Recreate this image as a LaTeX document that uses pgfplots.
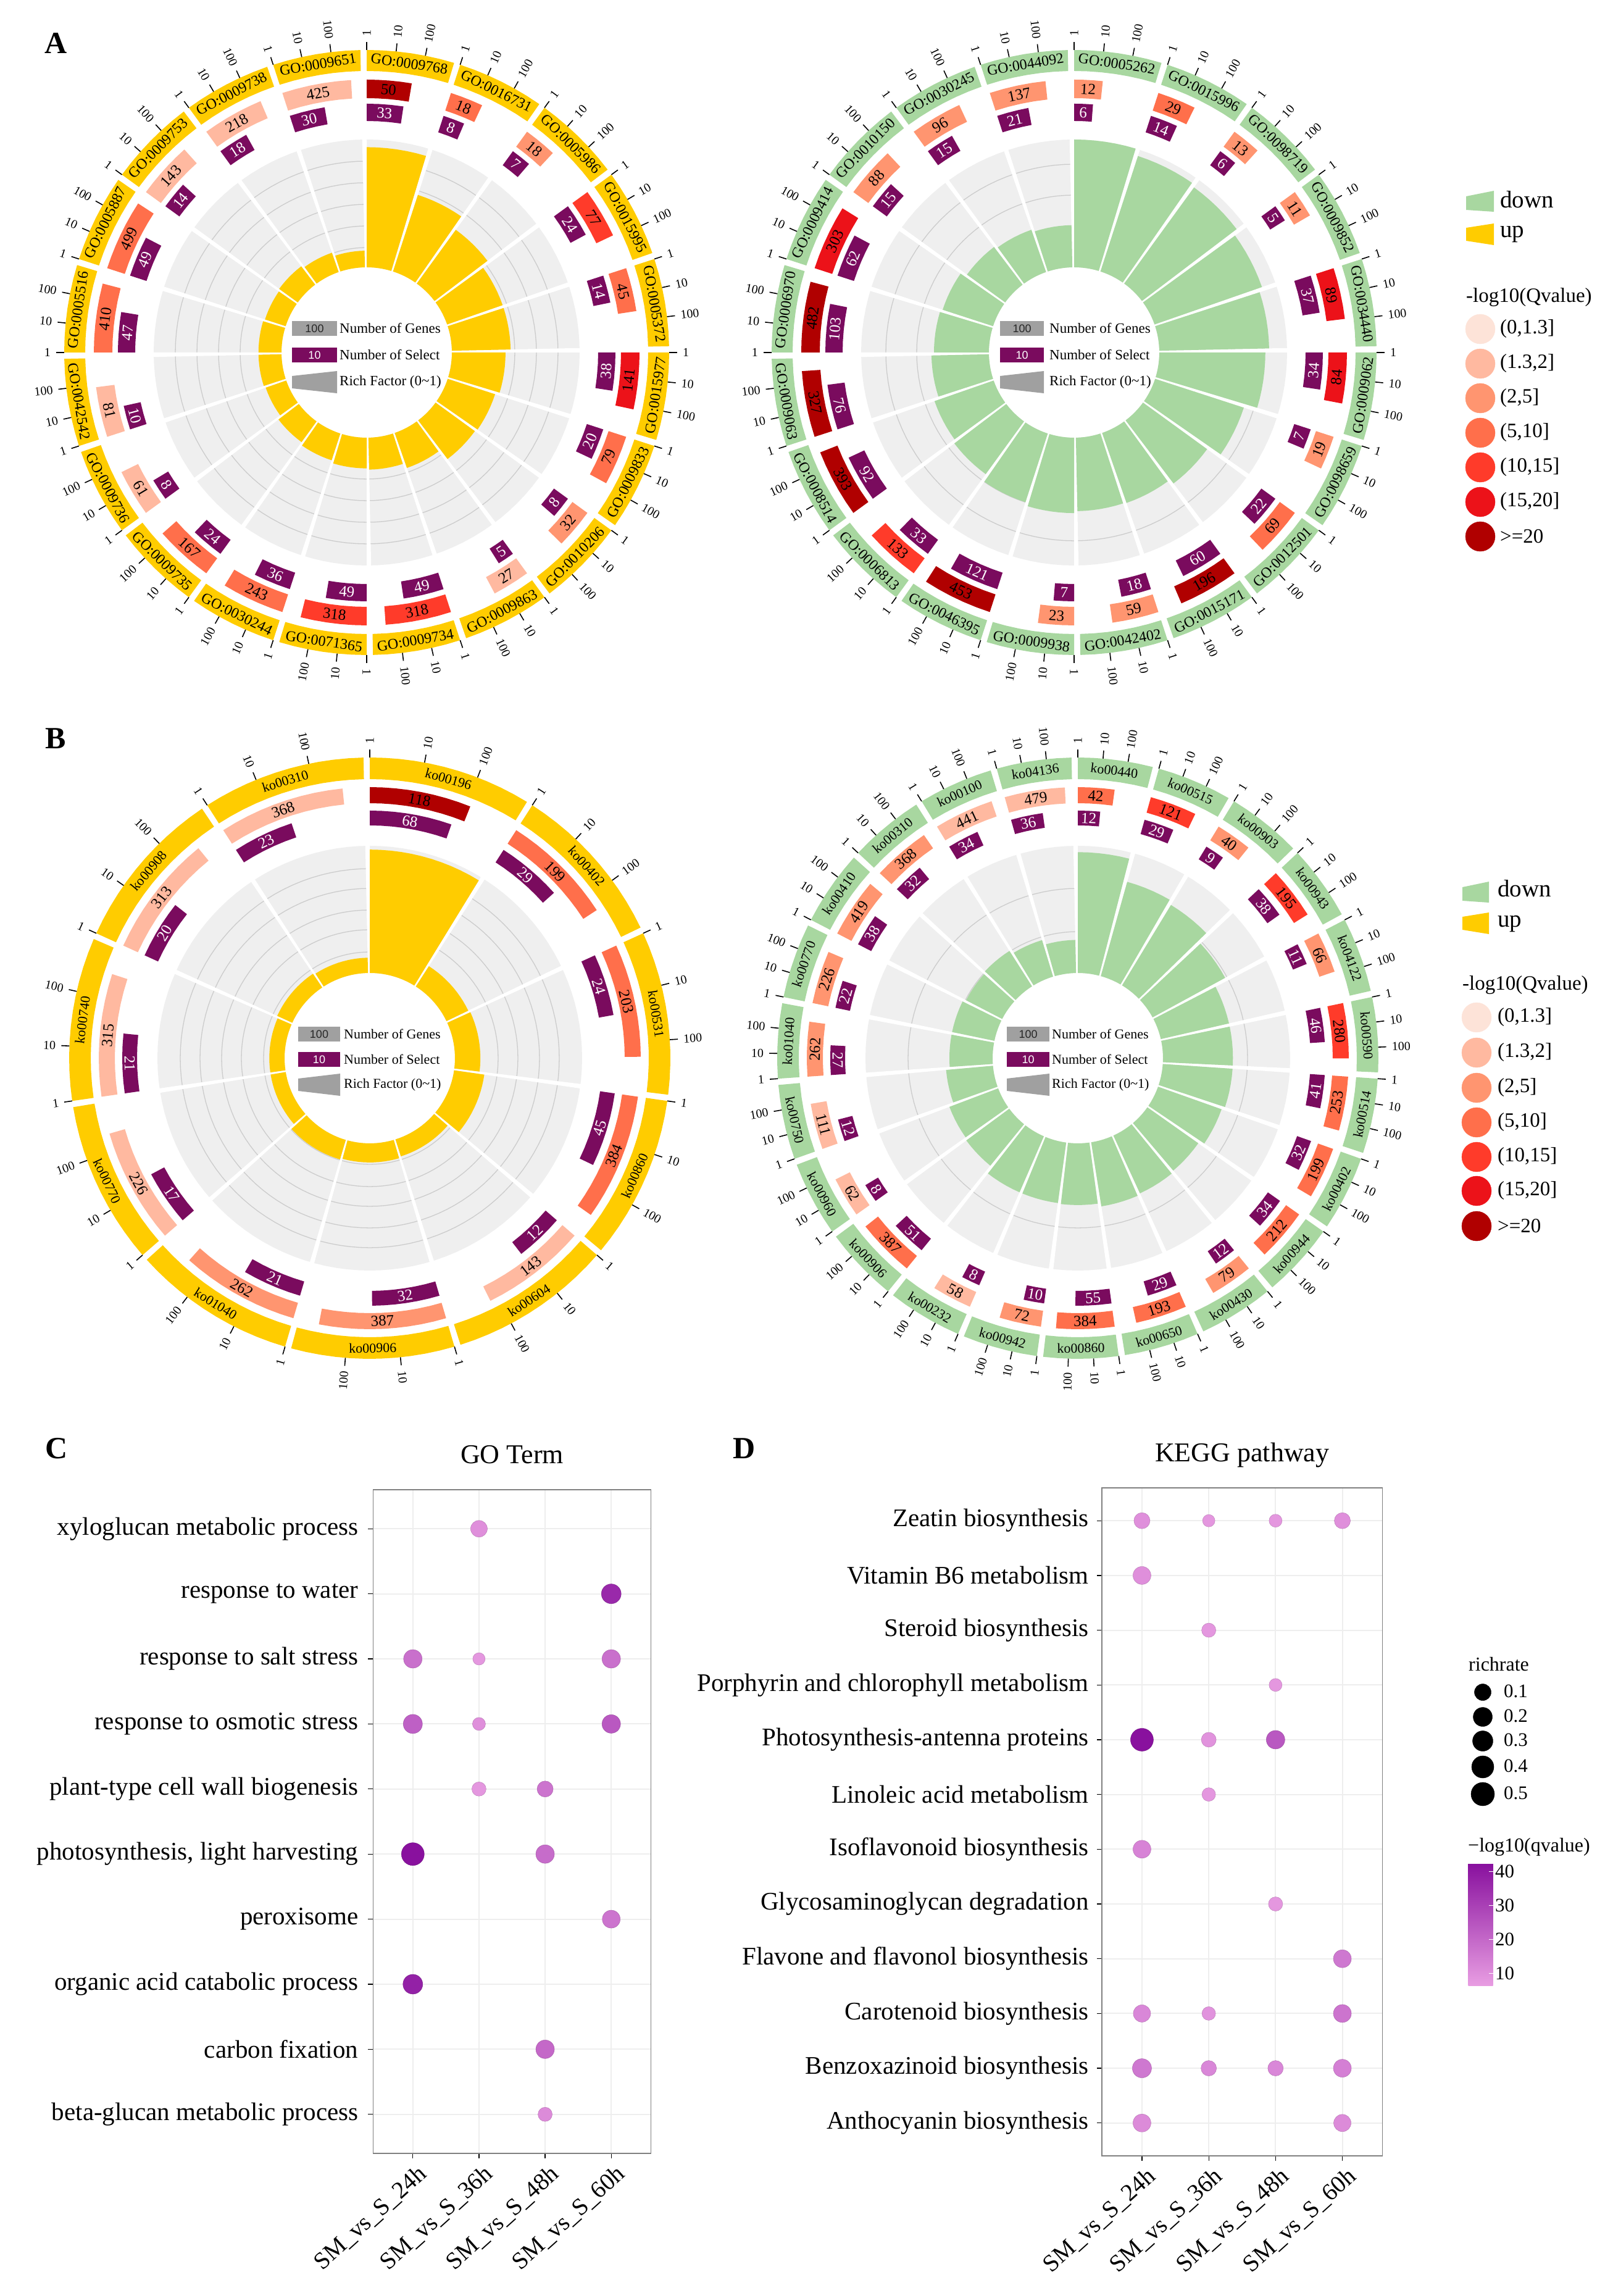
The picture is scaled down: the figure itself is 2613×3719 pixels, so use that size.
\documentclass[border=0pt]{standalone}
\usepackage{fontspec}
\setmainfont{Liberation Serif}
\newfontfamily\arialfont{Liberation Sans}
\usepackage{pgfplots}
\usepgfplotslibrary{polar}
\pgfplotsset{compat=1.18}

\definecolor{cq1}{HTML}{FDE3D8}
\definecolor{cq2}{HTML}{FFB9A0}
\definecolor{cq3}{HTML}{FF9570}
\definecolor{cq4}{HTML}{FF6F4B}
\definecolor{cq5}{HTML}{FF3B2A}
\definecolor{cq6}{HTML}{EC1219}
\definecolor{cq7}{HTML}{B00000}
\definecolor{selpurple}{HTML}{7A0B5E}
\definecolor{upyellow}{HTML}{FFCC00}
\definecolor{downgreen}{HTML}{A8D7A0}
\definecolor{trackgrey}{HTML}{EFEFEF}
\definecolor{circgrey}{HTML}{CCCCCC}
\definecolor{keygrey}{HTML}{A0A0A0}
\definecolor{panelgrid}{HTML}{EEEEEE}
\definecolor{panelframe}{HTML}{808080}

\pgfplotsset{colormap={bubble}{rgb255(0cm)=(232,157,226); rgb255(1cm)=(136,16,158)}}

\newcommand\fs[1]{\fontsize{#1}{#1}\selectfont}

% label / genes (log scale over the sector) / q class / selected / rich factor
\def\dataAL{GO:0009768/50/7/33/0.94,GO:0016731/18/4/8/0.63,GO:0005986/18/3/7/0.52,GO:0015995/77/5/24/0.46,GO:0005372/45/4/14/0.46,GO:0015977/141/6/38/0.42,GO:0009833/79/4/20/0.39,GO:0010206/32/3/8/0.38,GO:0009863/27/2/5/0.29,GO:0009734/318/5/49/0.25,GO:0071365/318/5/49/0.24,GO:0030244/243/4/36/0.22,GO:0009735/167/4/24/0.20,GO:0009736/61/2/8/0.17,GO:0042542/81/2/10/0.18,GO:0005516/410/4/47/0.18,GO:0005887/499/4/49/0.17,GO:0009753/143/2/14/0.18,GO:0009738/218/2/18/0.16,GO:0009651/425/2/30/0.13}
\def\dataAR{GO:0005262/12/3/6/1.00,GO:0015996/29/4/14/0.95,GO:0098719/13/3/6/0.93,GO:0009852/11/3/5/0.89,GO:0034440/89/6/37/0.86,GO:0009062/84/6/34/0.83,GO:0098659/19/3/7/0.73,GO:0012501/69/4/22/0.62,GO:0015171/196/7/60/0.58,GO:0042402/59/3/18/0.575,GO:0009938/23/3/7/0.59,GO:0046395/453/7/121/0.565,GO:0006813/133/5/33/0.51,GO:0008514/393/7/92/0.49,GO:0009063/327/7/76/0.45,GO:0006970/482/7/103/0.43,GO:0009414/303/6/62/0.415,GO:0010150/88/3/15/0.37,GO:0030245/96/3/15/0.35,GO:0044092/137/3/21/0.33}
\def\dataBL{ko00196/118/7/68/0.97,ko00402/199/4/29/0.19,ko00531/203/4/24/0.20,ko00860/384/4/45/0.24,ko00604/143/2/12/0.14,ko00906/387/3/32/0.15,ko01040/262/3/21/0.16,ko00770/226/2/17/0.12,ko00740/315/2/21/0.12,ko00908/313/2/20/0.13,ko00310/368/2/23/0.12}
\def\dataBR{ko00440/42/4/12/0.95,ko00515/121/5/29/0.77,ko00903/40/3/9/0.74,ko00943/195/5/38/0.65,ko04122/66/3/11/0.55,ko00590/280/5/46/0.55,ko00514/253/4/41/0.55,ko00402/199/4/32/0.53,ko00944/212/4/34/0.49,ko00430/79/3/12/0.50,ko00650/193/4/29/0.51,ko00860/384/4/55/0.485,ko00942/72/3/10/0.48,ko00232/58/2/8/0.48,ko00906/387/4/51/0.42,ko00960/62/2/8/0.41,ko00750/111/2/12/0.37,ko01040/262/3/27/0.34,ko00770/226/3/22/0.34,ko00410/419/3/38/0.32,ko00310/368/3/32/0.33,ko00100/441/2/34/0.30,ko04136/479/2/36/0.26}

% polar outline of a ring sector, left in \pts
\newcommand\sectorpts[4]{%
  \pgfmathtruncatemacro\nn{max(1,ceil(abs(#2-(#1))/3))}%
  \pgfmathsetmacro\dang{(#2-(#1))/\nn}%
  \gdef\pts{}%
  \foreach \k in {0,...,\nn}{\pgfmathsetmacro\ptang{#1+\k*\dang}\xdef\pts{\pts(\ptang,#4)}}%
  \foreach \k in {\nn,...,0}{\pgfmathsetmacro\ptang{#1+\k*\dang}\xdef\pts{\pts(\ptang,#3)}}%
}
\newcommand\sector[5]{%
  \sectorpts{#1}{#2}{#3}{#4}%
  \edef\tmp{\noexpand\addplot[draw=none,fill=#5] coordinates {\pts};}\tmp
}
% text along the ring at angle #1, radius #2
\newcommand\facetext[5]{%
  \pgfmathsetmacro\nang{mod(mod(#1,360)+360,360)}%
  \pgfmathsetmacro\rot{\nang<180 ? \nang-90 : \nang+90}%
  \edef\tmp{\noexpand\node[rotate=\rot,text=#4,inner sep=0pt,font=\noexpand\fs{#3}] at (axis cs:#1,#2) {#5};}\tmp
}

% cx, cy from the top, number of sectors, data, ring colour, grid radii
\newcommand\circos[6]{%
\pgfmathsetmacro\cyy{3719-#2}%
\begin{polaraxis}[at={(#1pt,\cyy pt)},anchor=center,hide axis,clip=false,
  width=980pt,height=980pt,scale only axis,xmin=0,xmax=360,ymin=0,ymax=490]
  \pgfmathsetmacro\secw{360/#3}%
  \pgfmathsetmacro\span{\secw-\gapdeg}%
  \sector{0}{360}{0}{\rTrack}{trackgrey}%
  \foreach \g in {#6}{%
    \sectorpts{0}{360}{\g}{\g}%
    \edef\tmp{\noexpand\addplot[circgrey,line width=1.3pt] coordinates {\pts};}\tmp
  }%
  \foreach \vlab/\vgene/\vcls/\vsel/\vrich [count=\ii] in #4 {%
    \pgfmathsetmacro\aa{90-(\ii-1)*\secw}%
    \pgfmathsetmacro\ab{\aa-\span}%
    \pgfmathsetmacro\ac{\aa-\secw}%
    % white gap through the grey track
    \edef\tmp{\noexpand\addplot[draw=none,fill=white] coordinates {(\ab,352)(\ac,352)(\ac,0)};}\tmp
    % outer labelled ring and its log ticks
    \sector{\aa}{\ab}{\ringIn}{\ringOut}{#5}%
    \pgfmathsetmacro\am{\aa-\span/2}%
    \pgfmathsetmacro\rm{(\ringIn+\ringOut)/2}%
    \facetext{\am}{\rm}{\ringFont}{black}{\vlab}%
    \foreach \k/\tl in {0/1,1/10,2/100}{%
      \pgfmathsetmacro\ta{\aa-\k/3*\span}%
      \pgfmathsetmacro\tb{\ringOut+13}%
      \pgfmathsetmacro\tc{\ringOut+22}%
      \pgfmathsetmacro\nang{mod(mod(\ta,360)+360,360)}%
      \pgfmathtruncatemacro\isright{cos(\nang)>=0 ? 1 : 0}%
      \ifnum\isright=1 \pgfmathsetmacro\trot{\nang}\def\tanc{west}\else \pgfmathsetmacro\trot{\nang+180}\def\tanc{east}\fi
      \edef\tmp{\noexpand\draw[black,line width=1.6pt] (axis cs:\ta,\ringOut) -- (axis cs:\ta,\tb);
        \noexpand\node[rotate=\trot,anchor=\tanc,inner sep=0pt,font=\noexpand\fs{20}] at (axis cs:\ta,\tc) {\tl};}\tmp
    }%
    % genes
    \pgfmathsetmacro\ae{\aa-log10(\vgene)/3*\span}%
    \sector{\aa}{\ae}{\geneIn}{\geneOut}{cq\vcls}%
    \pgfmathsetmacro\am{(\aa+\ae)/2}%
    \pgfmathsetmacro\rm{(\geneIn+\geneOut)/2}%
    \facetext{\am}{\rm}{25}{black}{\vgene}%
    % selected
    \pgfmathsetmacro\ae{\aa-log10(\vsel)/3*\span}%
    \sector{\aa}{\ae}{\selIn}{\selOut}{selpurple}%
    \pgfmathsetmacro\am{(\aa+\ae)/2}%
    \pgfmathsetmacro\rm{(\selIn+\selOut)/2}%
    \facetext{\am}{\rm}{25}{white}{\vsel}%
  }%
  \sector{0}{360}{0}{\rHole}{white}%
  \foreach \vlab/\vgene/\vcls/\vsel/\vrich [count=\ii] in #4 {%
    \pgfmathsetmacro\aa{90-(\ii-1)*\secw}%
    \pgfmathsetmacro\ab{\aa-\span}%
    \pgfmathsetmacro\rr{\rHole+\vrich*(\rTrack-\rHole)}%
    \sector{\aa}{\ab}{\rHole}{\rr}{#5}%
  }%
\end{polaraxis}%
}

% key in the hub: cx cy font, up-offsets of rows 2 and 3, rect x0 x1, text x
\newcommand\hubkey[8]{%
  \pgfmathsetmacro\xa{#1+(#6)}\pgfmathsetmacro\xb{#1+(#7)}\pgfmathsetmacro\xt{#1+(#8)}%
  \pgfmathsetmacro\xm{(\xa+\xb)/2}%
  \pgfmathsetmacro\ya{#2-51}\pgfmathsetmacro\yb{#2-27}\pgfmathsetmacro\ym{#2-39}%
  \pgfmathsetmacro\yc{#2-(#4)-12}\pgfmathsetmacro\yd{#2-(#4)+12}\pgfmathsetmacro\yn{#2-(#4)}%
  \pgfmathsetmacro\ye{#2-(#5)-18}\pgfmathsetmacro\yf{#2-(#5)-10}\pgfmathsetmacro\yg{#2-(#5)+10}\pgfmathsetmacro\yh{#2-(#5)+18}\pgfmathsetmacro\yp{#2-(#5)}%
  \edef\tmp{%
    \noexpand\addplot[draw=none,fill=keygrey] coordinates {(\xa,\ya)(\xb,\ya)(\xb,\yb)(\xa,\yb)};
    \noexpand\addplot[draw=none,fill=selpurple] coordinates {(\xa,\yc)(\xb,\yc)(\xb,\yd)(\xa,\yd)};
    \noexpand\addplot[draw=none,fill=keygrey] coordinates {(\xa,\yf)(\xb,\ye)(\xb,\yh)(\xa,\yg)};
    \noexpand\node[font=\noexpand\arialfont\noexpand\fs{18},text=black!85] at (axis cs:\xm,\ym) {100};
    \noexpand\node[font=\noexpand\arialfont\noexpand\fs{18},text=white] at (axis cs:\xm,\yn) {10};
    \noexpand\node[anchor=west,inner sep=0pt,font=\noexpand\fs{#3}] at (axis cs:\xt,\ym) {Number of Genes};
    \noexpand\node[anchor=west,inner sep=0pt,font=\noexpand\fs{#3}] at (axis cs:\xt,\yn) {Number of Select};
    \noexpand\node[anchor=west,inner sep=0pt,font=\noexpand\fs{#3}] at (axis cs:\xt,\yp) {Rich Factor (0\noexpand\textasciitilde{}1)};
  }\tmp
}
% q-value key row: x, y, colour, text x, label
\newcommand\qkey[5]{%
  \addplot[only marks,mark=*,mark size=24pt,color=#3] coordinates {(#1,#2)};
  \node[anchor=west,inner sep=0pt,font=\fs{33}] at (axis cs:#4,#2) {#5};
}
\newcommand\updown[7]{% x0 x1 ydown yup xtext ytextdown ytextup
  \addplot[draw=none,fill=downgreen] coordinates {(#1,#3-8)(#2,#3-17)(#2,#3+17)(#1,#3+14)};
  \addplot[draw=none,fill=upyellow] coordinates {(#1,#4-11)(#2,#4-18)(#2,#4+17)(#1,#4+10)};
  \node[anchor=west,inner sep=0pt,font=\fs{39}] at (axis cs:#5,#6) {down};
  \node[anchor=west,inner sep=0pt,font=\fs{39}] at (axis cs:#5,#7) {up};
}

\begin{document}
\begin{tikzpicture}
\useasboundingbox (0,0) rectangle (2613pt,3719pt);

\def\gapdeg{1.2}\def\rHole{138}\def\rTrack{345}
\def\ringIn{456}\def\ringOut{490}\def\geneIn{412}\def\geneOut{442}\def\selIn{375}\def\selOut{403}\def\ringFont{24}
\circos{594}{571}{20}{\dataAL}{upyellow}{170,205,240,275,310}
\circos{1740}{571}{20}{\dataAR}{downgreen}{205,255,305}
\def\ringIn{452}\def\ringOut{487}\def\geneIn{413}\def\geneOut{439}\def\selIn{377}\def\selOut{401}\def\ringFont{22}\def\rTrack{344}
\circos{599}{1714}{11}{\dataBL}{upyellow}{172,208,240,275,307}
\circos{1746}{1714}{23}{\dataBR}{downgreen}{205,275}

% page-sized axis for panel letters and the keys
\begin{axis}[at={(0pt,0pt)},anchor=south west,hide axis,clip=false,
  width=2613pt,height=3719pt,scale only axis,
  xmin=0,xmax=2613,ymin=0,ymax=3719,y dir=reverse]
  \node[font=\bfseries\fs{50}] at (axis cs:91,70) {A};
  \node[font=\bfseries\fs{50}] at (axis cs:90,1196) {B};
  \node[font=\bfseries\fs{50}] at (axis cs:92,2346) {C};
  \node[font=\bfseries\fs{50}] at (axis cs:1206,2346) {D};

  \hubkey{594}{571}{23}{-4}{-48}{-121}{-48}{-44}
  \hubkey{1740}{571}{23}{-4}{-48}{-120}{-49}{-40}
  \hubkey{599}{1714}{22}{-2}{-43}{-116}{-48}{-42}
  \hubkey{1746}{1714}{22}{-2}{-43}{-115}{-46}{-42}

  \updown{2375}{2420}{326}{380}{2430}{323}{379}
  \node[anchor=west,inner sep=0pt,font=\fs{33}] at (axis cs:2375,482) {-log10(Qvalue)};
  \qkey{2398}{533}{cq1}{2430}{(0,1.3]}
  \qkey{2398}{589}{cq2}{2430}{(1.3,2]}
  \qkey{2398}{645}{cq3}{2430}{(2,5]}
  \qkey{2398}{701}{cq4}{2430}{(5,10]}
  \qkey{2398}{757}{cq5}{2430}{(10,15]}
  \qkey{2398}{813}{cq6}{2430}{(15,20]}
  \qkey{2398}{869}{cq7}{2430}{>=20}

  \updown{2369}{2412}{1445}{1496}{2426}{1439}{1496}
  \node[anchor=west,inner sep=0pt,font=\fs{33}] at (axis cs:2369,1596) {-log10(Qvalue)};
  \qkey{2392}{1648}{cq1}{2426}{(0,1.3]}
  \qkey{2392}{1705}{cq2}{2426}{(1.3,2]}
  \qkey{2392}{1762}{cq3}{2426}{(2,5]}
  \qkey{2392}{1818}{cq4}{2426}{(5,10]}
  \qkey{2392}{1874}{cq5}{2426}{(10,15]}
  \qkey{2392}{1929}{cq6}{2426}{(15,20]}
  \qkey{2392}{1986}{cq7}{2426}{>=20}

  % richrate size key
  \node[anchor=west,inner sep=0pt,font=\fs{32}] at (axis cs:2379,2696) {richrate};
  \addplot[only marks,mark=*,mark size=13.5pt,color=black] coordinates {(2402,2741)};
  \addplot[only marks,mark=*,mark size=15.5pt,color=black] coordinates {(2402,2781)};
  \addplot[only marks,mark=*,mark size=16.5pt,color=black] coordinates {(2402,2820)};
  \addplot[only marks,mark=*,mark size=18pt,color=black] coordinates {(2402,2862)};
  \addplot[only marks,mark=*,mark size=19pt,color=black] coordinates {(2402,2906)};
  \node[anchor=west,inner sep=0pt,font=\fs{31}] at (axis cs:2436,2739) {0.1};
  \node[anchor=west,inner sep=0pt,font=\fs{31}] at (axis cs:2436,2779) {0.2};
  \node[anchor=west,inner sep=0pt,font=\fs{31}] at (axis cs:2436,2818) {0.3};
  \node[anchor=west,inner sep=0pt,font=\fs{31}] at (axis cs:2436,2860) {0.4};
  \node[anchor=west,inner sep=0pt,font=\fs{31}] at (axis cs:2436,2904) {0.5};
  \node[anchor=west,inner sep=0pt,font=\fs{32}] at (axis cs:2378,2992) {^^^^2212log10(qvalue)};
\end{axis}

\pgfplotsset{bubbleaxis/.style={anchor=south west,scale only axis,
  colormap name=bubble,point meta min=6.5,point meta max=42.5,
  xmin=0.4,xmax=4.6,xtick={1,2,3,4},
  xticklabels={SM\_vs\_S\_24h,SM\_vs\_S\_36h,SM\_vs\_S\_48h,SM\_vs\_S\_60h},
  grid=major,major grid style={draw=panelgrid,line width=2pt},
  axis line style={draw=panelframe,line width=1.5pt},
  tick pos=left,tick align=outside,major tick length=8pt,
  tick style={black,line width=1.3pt},
  xticklabel style={rotate=42,anchor=north east,font=\fs{39},inner sep=5pt,xshift=4pt,yshift=-5pt},
  yticklabel style={anchor=east,font=\fs{41},inner sep=0pt},
  title style={font=\fs{44},anchor=base,yshift=36pt}},
  bubbles/.style={scatter,only marks,mark=*,point meta=explicit,
  visualization depends on={\thisrow{d}/2\as\dotr},
  scatter/@pre marker code/.append style={/tikz/mark size=\dotr pt}}}

% C: GO term
\begin{axis}[bubbleaxis,at={(604.5pt,231pt)},width=450pt,height=1075pt,
  ymin=0.4,ymax=10.6,ytick={1,...,10},title={GO Term},
  yticklabel style={xshift=-16pt},
  yticklabels={beta-glucan metabolic process,carbon fixation,organic acid catabolic process,peroxisome,{photosynthesis, light harvesting},plant-type cell wall biogenesis,response to osmotic stress,response to salt stress,response to water,xyloglucan metabolic process}]
\addplot[bubbles] table[x=x,y=y,meta=q] {
x y q d
2 10 10 27
4 9 36 32
1 8 18 30
2 8 8 20
4 8 18 30
1 7 22 31
2 7 10 21
4 7 24 30
2 6 8 23
3 6 17 26
1 5 42 37
3 5 19 30
4 4 17 29
1 3 38 32
3 2 20 30
3 1 11 23
};
\end{axis}

% D: KEGG pathway
\begin{axis}[bubbleaxis,at={(1785pt,227pt)},width=454.5pt,height=1082pt,
  ymin=0.4,ymax=12.6,ytick={1,...,12},title={KEGG pathway},
  yticklabel style={xshift=-13pt},
  yticklabels={Anthocyanin biosynthesis,Benzoxazinoid biosynthesis,Carotenoid biosynthesis,Flavone and flavonol biosynthesis,Glycosaminoglycan degradation,Isoflavonoid biosynthesis,Linoleic acid metabolism,Photosynthesis-antenna proteins,Porphyrin and chlorophyll metabolism,Steroid biosynthesis,Vitamin B6 metabolism,Zeatin biosynthesis},
  colorbar,colorbar/width=40pt,colorbar style={at={(1.306,0.438)},anchor=north west,scale only axis,
    height=198pt,ytick={10,20,30,40},
    axis line style={draw=none},tick align=inside,ytick pos=right,yticklabel pos=right,
    major tick length=7pt,tick style={white,line width=1pt},
    yticklabel style={font=\fs{31},anchor=west,/pgf/number format/assume math mode=true}}]
\addplot[bubbles] table[x=x,y=y,meta=q] {
x y q d
1 12 10 26
2 12 8 20
3 12 8 21
4 12 10 26
1 11 10 29
2 10 8 23
3 9 8 21
1 8 42 37
2 8 9 24
3 8 24 30
2 7 8 22
1 6 13 29
3 5 8 23
4 4 16 29
1 3 12 28
2 3 9 22
4 3 17 29
1 2 16 31
2 2 12 25
3 2 12 25
4 2 14 29
1 1 11 29
4 1 11 28
};
\end{axis}
\end{tikzpicture}
\end{document}
